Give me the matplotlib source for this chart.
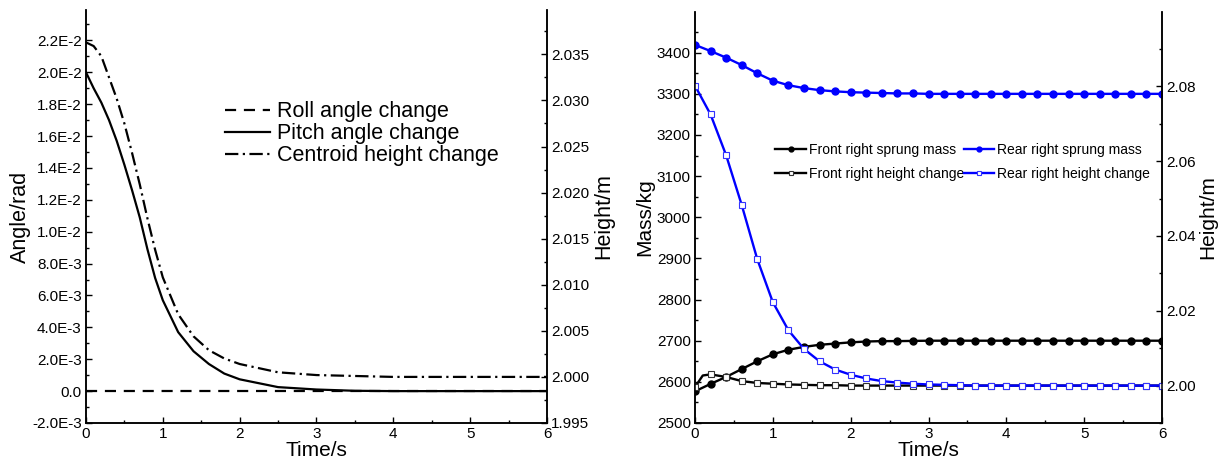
import matplotlib
matplotlib.use("Agg")
import matplotlib.pyplot as plt
from matplotlib.ticker import MultipleLocator, FuncFormatter, FormatStrFormatter
import numpy as np

plt.rcParams['font.family'] = ['Liberation Sans', 'DejaVu Sans']

# left panel: attitude / centroid height
t_left = [0, 0.1, 0.2, 0.3, 0.4, 0.5, 0.6, 0.7, 0.8, 0.9, 1.0, 1.2, 1.4, 1.6,
          1.8, 2.0, 2.5, 3.0, 3.5, 4.0, 5.0, 6.0]
roll = [0.0] * len(t_left)
pitch = [0.0200, 0.0190, 0.0181, 0.0170, 0.0157, 0.0142, 0.0126, 0.0109, 0.0089,
         0.0071, 0.0057, 0.0037, 0.0025, 0.0017, 0.0011, 0.00074, 0.00025, 0.0001,
         0.00002, 0.0, 0.0, 0.0]
centroid = [2.0363, 2.0359, 2.0348, 2.0325, 2.0302, 2.0275, 2.0243, 2.0209, 2.0172,
            2.0138, 2.0108, 2.0068, 2.0044, 2.0029, 2.0020, 2.0014, 2.0005, 2.0002,
            2.0001, 2.0000, 2.0000, 2.0000]

# right panel: sprung masses / corner heights, sampled every 0.2 s
t_right = [round(0.2 * i, 1) for i in range(31)]
front_mass = [2577, 2595, 2612, 2631, 2650, 2667, 2678, 2685, 2690, 2693, 2696,
              2698, 2699, 2699, 2699.5, 2700, 2700, 2700, 2700, 2700, 2700, 2700,
              2700, 2700, 2700, 2700, 2700, 2700, 2700, 2700, 2700]
rear_mass = [3419, 3404, 3388, 3370, 3350, 3332, 3321, 3314, 3309, 3306, 3304,
             3303, 3302, 3301, 3301, 3300, 3300, 3300, 3300, 3300, 3300, 3300,
             3300, 3300, 3300, 3300, 3300, 3300, 3300, 3300, 3300]
rear_height = [2.0802, 2.0725, 2.0616, 2.0483, 2.0338, 2.0223, 2.0148, 2.0098,
               2.0065, 2.0043, 2.0029, 2.0019, 2.0012, 2.0008, 2.0005, 2.0003,
               2.0002, 2.0001, 2.0000, 2.0000, 2.0000, 2.0000, 2.0000, 2.0000,
               2.0000, 2.0000, 2.0000, 2.0000, 2.0000, 2.0000, 2.0000]
# front height has one extra point at 0.1 s where the curve peaks
t_front_h = [0, 0.1] + t_right[1:]
front_height = [1.9996, 2.0027, 2.0030, 2.0023, 2.0012, 2.0007, 2.0005, 2.0003,
                2.0002, 2.0001, 2.0001, 2.0000, 2.0000, 2.0000, 2.0000, 2.0000,
                2.0000, 2.0000, 2.0000, 2.0000, 2.0000, 2.0000, 2.0000, 2.0000,
                2.0000, 2.0000, 2.0000, 2.0000, 2.0000, 2.0000, 2.0000, 2.0000]


def sci_fmt(v, pos):
    if abs(v) < 1e-12:
        return "0.0"
    return f"{v:.1E}".replace("E-0", "E-").replace("E+0", "E")


def style_axes(ax, axr, tick_fs):
    for a in (ax, axr):
        a.spines['top'].set_visible(False)
        a.tick_params(which='both', direction='in', labelsize=tick_fs, pad=3)
        a.tick_params(which='major', length=4, width=1)
        a.tick_params(which='minor', length=2.5, width=1)
        for s in a.spines.values():
            s.set_linewidth(1.1)
    ax.tick_params(axis='y', which='both', right=False)
    axr.tick_params(axis='y', which='both', left=False)


fig = plt.figure(figsize=(12.21, 4.66), dpi=100)

# ---- left panel
ax1 = fig.add_axes([0.0704, 0.0923, 0.3776, 0.886])
ax1r = ax1.twinx()
l_roll, = ax1.plot(t_left, roll, color='black', lw=1.6, ls=(0, (5, 3.5)),
                   label='Roll angle change')
l_pitch, = ax1.plot(t_left, pitch, color='black', lw=1.6, label='Pitch angle change')
l_cent, = ax1r.plot(t_left, centroid, color='black', lw=1.6, ls=(0, (6, 2, 1, 2)),
                    label='Centroid height change')
ax1.set_xlim(0, 6)
ax1.set_ylim(-0.002, 0.0239)
ax1r.set_ylim(1.995, 2.0398)
ax1.xaxis.set_major_locator(MultipleLocator(1))
ax1.xaxis.set_minor_locator(MultipleLocator(0.5))
ax1.yaxis.set_major_locator(MultipleLocator(0.002))
ax1.yaxis.set_minor_locator(MultipleLocator(0.001))
ax1.yaxis.set_major_formatter(FuncFormatter(sci_fmt))
ax1r.yaxis.set_major_locator(MultipleLocator(0.005))
ax1r.yaxis.set_minor_locator(MultipleLocator(0.0025))
ax1r.yaxis.set_major_formatter(FormatStrFormatter('%.3f'))
style_axes(ax1, ax1r, 11)
ax1.set_xlabel('Time/s', fontsize=15, labelpad=0)
ax1.set_ylabel('Angle/rad', fontsize=15.5, labelpad=1)
ax1r.set_ylabel('Height/m', fontsize=15.5, labelpad=3)
ax1r.legend(handles=[l_roll, l_pitch, l_cent], loc='upper left',
            bbox_to_anchor=(0.282, 0.80), frameon=False, fontsize=15.5,
            handlelength=2.1, handletextpad=0.35, labelspacing=0.05,
            borderaxespad=0)

# ---- right panel
ax2 = fig.add_axes([0.5692, 0.0923, 0.3825, 0.882])
ax2r = ax2.twinx()
l_fm, = ax2.plot(t_right, front_mass, color='black', lw=1.7, marker='o', ms=5,
                 label='Front right sprung mass')
l_rm, = ax2.plot(t_right, rear_mass, color='#0000ff', lw=1.7, marker='o', ms=5,
                 label='Rear right sprung mass')
fh_marks = [0] + list(range(2, len(t_front_h)))
l_fh, = ax2r.plot(t_front_h, front_height, color='black', lw=1.7, marker='s', ms=4.3,
                  mfc='white', mec='#333333', mew=0.8, markevery=fh_marks,
                  label='Front right height change')
l_rh, = ax2r.plot(t_right, rear_height, color='#0000ff', lw=1.7, marker='s', ms=4.3,
                  mfc='white', mec='#3333ff', mew=0.8,
                  label='Rear right height change')
ax2.set_xlim(0, 6)
ax2.set_ylim(2500, 3499)
ax2r.set_ylim(1.99, 2.0999)
ax2.xaxis.set_major_locator(MultipleLocator(1))
ax2.xaxis.set_minor_locator(MultipleLocator(0.5))
ax2.yaxis.set_major_locator(MultipleLocator(100))
ax2.yaxis.set_minor_locator(MultipleLocator(50))
ax2r.yaxis.set_major_locator(MultipleLocator(0.02))
ax2r.yaxis.set_minor_locator(MultipleLocator(0.01))
ax2r.yaxis.set_major_formatter(FormatStrFormatter('%.2f'))
style_axes(ax2, ax2r, 11)
ax2.set_xlabel('Time/s', fontsize=15, labelpad=0)
ax2.set_ylabel('Mass/kg', fontsize=15, labelpad=2)
ax2r.set_ylabel('Height/m', fontsize=15, labelpad=2)
ax2r.legend(handles=[l_fm, l_fh, l_rm, l_rh], ncol=2, loc='upper left',
            bbox_to_anchor=(0.16, 0.695), frameon=False, fontsize=10,
            handlelength=2.2, handletextpad=0.2, columnspacing=0.0,
            labelspacing=0.75, borderaxespad=0, markerscale=0.7)

fig.savefig('out.png', dpi=100)
